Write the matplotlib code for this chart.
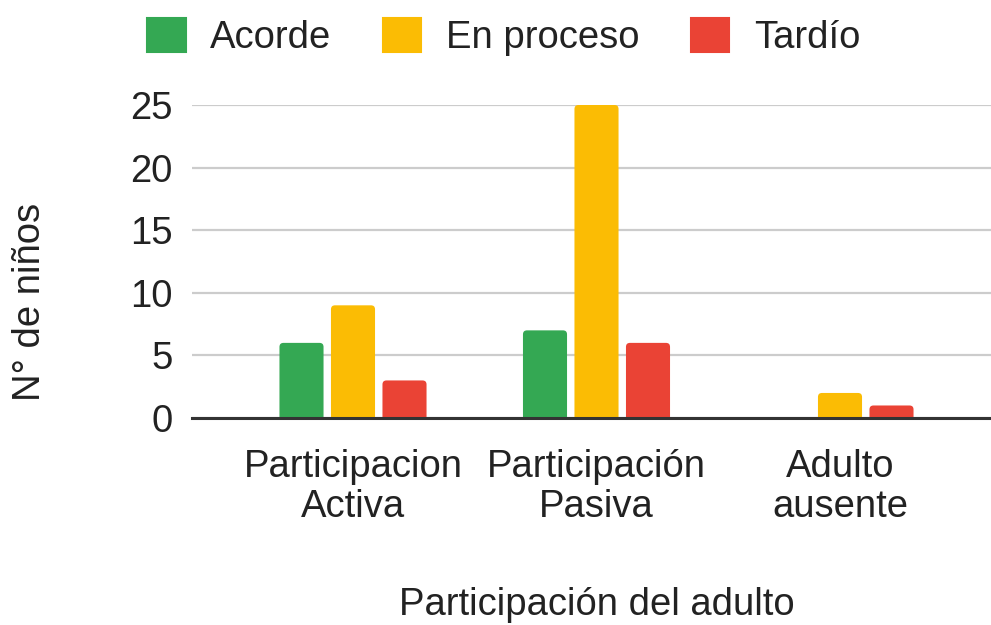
import numpy as np
import matplotlib
matplotlib.use("Agg")
import matplotlib.pyplot as plt
from matplotlib.patches import FancyBboxPatch, Patch

categorias = ['Participacion\nActiva', 'Participación\nPasiva', 'Adulto\nausente']
series = ['Acorde', 'En proceso', 'Tardío']
acorde = [6, 7, 0]
en_proceso = [9, 25, 2]
tardio = [3, 6, 1]
colores = ['#34A853', '#FBBC04', '#EA4335']
yticks = [0, 5, 10, 15, 20, 25]

plt.rcParams['font.family'] = ['Liberation Sans', 'DejaVu Sans']
TXT = '#222222'
FS = 27.5

fig = plt.figure(figsize=(9.91, 6.25), dpi=100)
ax = fig.add_axes([192 / 991, 207 / 625, 799 / 991, 313 / 625])

x = np.arange(len(categorias))
paso = 0.2115
ancho = 0.181
valores = [acorde, en_proceso, tardio]

# px -> data units para las esquinas redondeadas
px_x = 1 / 243.5
px_y = 25 / 313
radio = 4 * px_x

for i, (nombre, vals, col) in enumerate(zip(series, valores, colores)):
    barras = ax.bar(x + (i - 1) * paso, vals, ancho, color=col, label=nombre)
    for b in barras:
        h = b.get_height()
        b.set_visible(False)
        if h <= 0:
            continue
        p = FancyBboxPatch((b.get_x(), -1), b.get_width(), h + 1,
                           boxstyle=f"round,pad=0,rounding_size={radio}",
                           mutation_aspect=px_y / px_x,
                           facecolor=col, edgecolor='none', zorder=3)
        ax.add_patch(p)

ax.set_xlim(-161 / 243.5, 2 + 151 / 243.5)
ax.set_ylim(0, 25)
ax.set_yticks(yticks)
ax.set_yticklabels([str(v) for v in yticks])
ax.set_xticks(x)
ax.set_xticklabels(categorias, linespacing=1.17)
ax.tick_params(axis='both', length=0, labelsize=FS, colors=TXT)
ax.tick_params(axis='x', pad=22)
ax.tick_params(axis='y', pad=14)
ax.grid(axis='y', color='#cccccc', linewidth=1.6, zorder=0)
ax.set_axisbelow(True)
for s in ['top', 'right', 'left']:
    ax.spines[s].set_visible(False)
ax.spines['bottom'].set_color('#333333')
ax.spines['bottom'].set_linewidth(2.2)
ax.spines['bottom'].set_zorder(4)

fig.text(597 / 991, 1 - 605 / 625, 'Participación del adulto', ha='center', va='center',
         fontsize=FS, color=TXT)
fig.text(30 / 991, 1 - 302 / 625, 'N° de niños', ha='center', va='center', rotation=90,
         fontsize=FS, color=TXT)

handles = [Patch(facecolor=c, edgecolor=c, linewidth=1.5, joinstyle='round') for c in colores]
fig.legend(handles, series, loc='center', bbox_to_anchor=(504 / 991, 1 - 37 / 625),
           ncol=3, frameon=False, fontsize=FS, handlelength=1.0, handleheight=1.0,
           handletextpad=0.65, columnspacing=1.35, labelcolor=TXT)

fig.savefig('out.png', dpi=100)
